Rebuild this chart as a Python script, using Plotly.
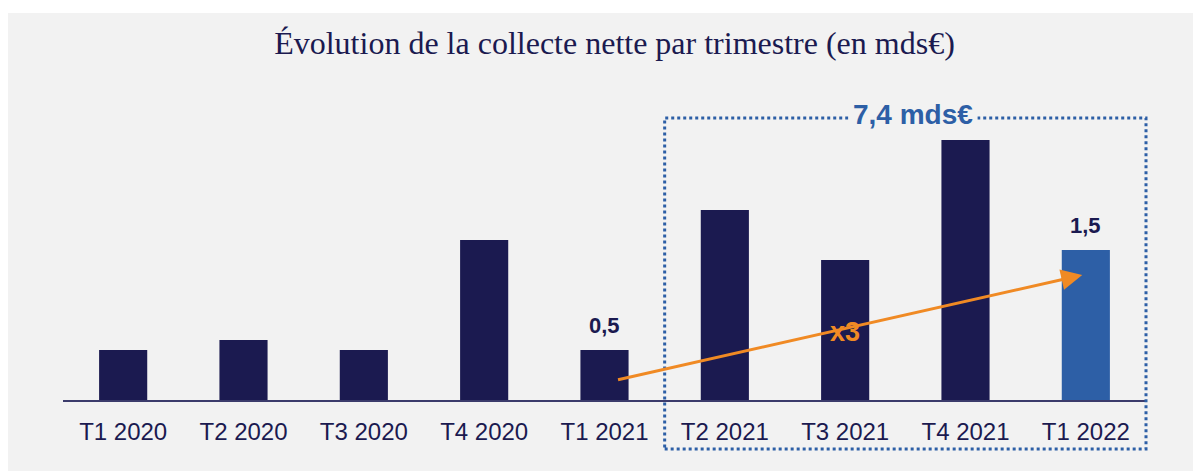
import plotly.graph_objects as go

quarters = ['T1 2020', 'T2 2020', 'T3 2020', 'T4 2020', 'T1 2021',
            'T2 2021', 'T3 2021', 'T4 2021', 'T1 2022']
collecte = [0.5, 0.6, 0.5, 1.6, 0.5, 1.9, 1.4, 2.6, 1.5]
labels = ['', '', '', '', '0,5', '', '', '', '1,5']

NAVY = '#1b1a50'
BLUE = '#2d5fa6'
ORANGE = '#f08a24'
BG = '#f2f2f2'

colors = [NAVY] * (len(quarters) - 1) + [BLUE]

fig = go.Figure()
fig.add_trace(go.Bar(
    x=quarters,
    y=collecte,
    marker=dict(color=colors, line=dict(width=0)),
    hoverinfo='skip',
))

# value labels only on T1 2021 and T1 2022
for q, v, lab in zip(quarters, collecte, labels):
    if lab:
        fig.add_annotation(x=q, y=v, text='<b>' + lab + '</b>', showarrow=False,
                           yanchor='bottom', yshift=10,
                           font=dict(family='Liberation Sans', size=22, color=NAVY))

# dotted box around the last 4 quarters (T2 2021 -> T1 2022)
fig.add_shape(type='rect', xref='paper', yref='paper',
              x0=5 / 9, x1=1.0, y0=-0.169, y1=0.972,
              line=dict(color=BLUE, width=3, dash='dot'), layer='above')
fig.add_annotation(text='<b>7,4 mds€</b>', xref='paper', yref='paper',
                   x=0.785, y=0.983, xanchor='center', yanchor='middle',
                   showarrow=False,
                   font=dict(family='Liberation Sans', size=28, color=BLUE),
                   bgcolor=BG, borderpad=4)

# growth arrow from T1 2021 to T1 2022
fig.add_annotation(x=7.97, y=1.25, ax=4.1, ay=0.2,
                   xref='x', yref='y', axref='x', ayref='y',
                   text='', showarrow=True, arrowhead=2, arrowsize=1.4,
                   arrowwidth=3, arrowcolor=ORANGE)
fig.add_annotation(x=6, y=0.68, xref='x', yref='y', text='<b>x3</b>',
                   showarrow=False,
                   font=dict(family='Liberation Sans', size=27, color=ORANGE))

# thin white strip at the very top like the original image
fig.add_shape(type='rect', xref='paper', yref='paper',
              x0=-0.2, x1=1.2, y0=1 + 97 / 290, y1=1.5,
              fillcolor='white', line=dict(width=0), layer='below')

fig.update_layout(
    width=1201, height=471,
    margin=dict(l=55, r=63, t=102, b=79),
    paper_bgcolor=BG,
    plot_bgcolor=BG,
    bargap=0.6,
    showlegend=False,
    title=dict(text='Évolution de la collecte nette par trimestre (en mds€)',
               x=0.505, xanchor='center', y=1 - 35 / 471, yanchor='middle',
               font=dict(family='Liberation Serif', size=32, color=NAVY)),
    xaxis=dict(showline=True, linecolor='#3c3c6c', linewidth=2,
               showgrid=False, ticks='', zeroline=False, ticklabelstandoff=9,
               tickfont=dict(family='Liberation Sans', size=24, color=NAVY)),
    yaxis=dict(range=[0, 2.9], visible=False, showgrid=False, zeroline=False),
)

fig.write_html('out.html')
